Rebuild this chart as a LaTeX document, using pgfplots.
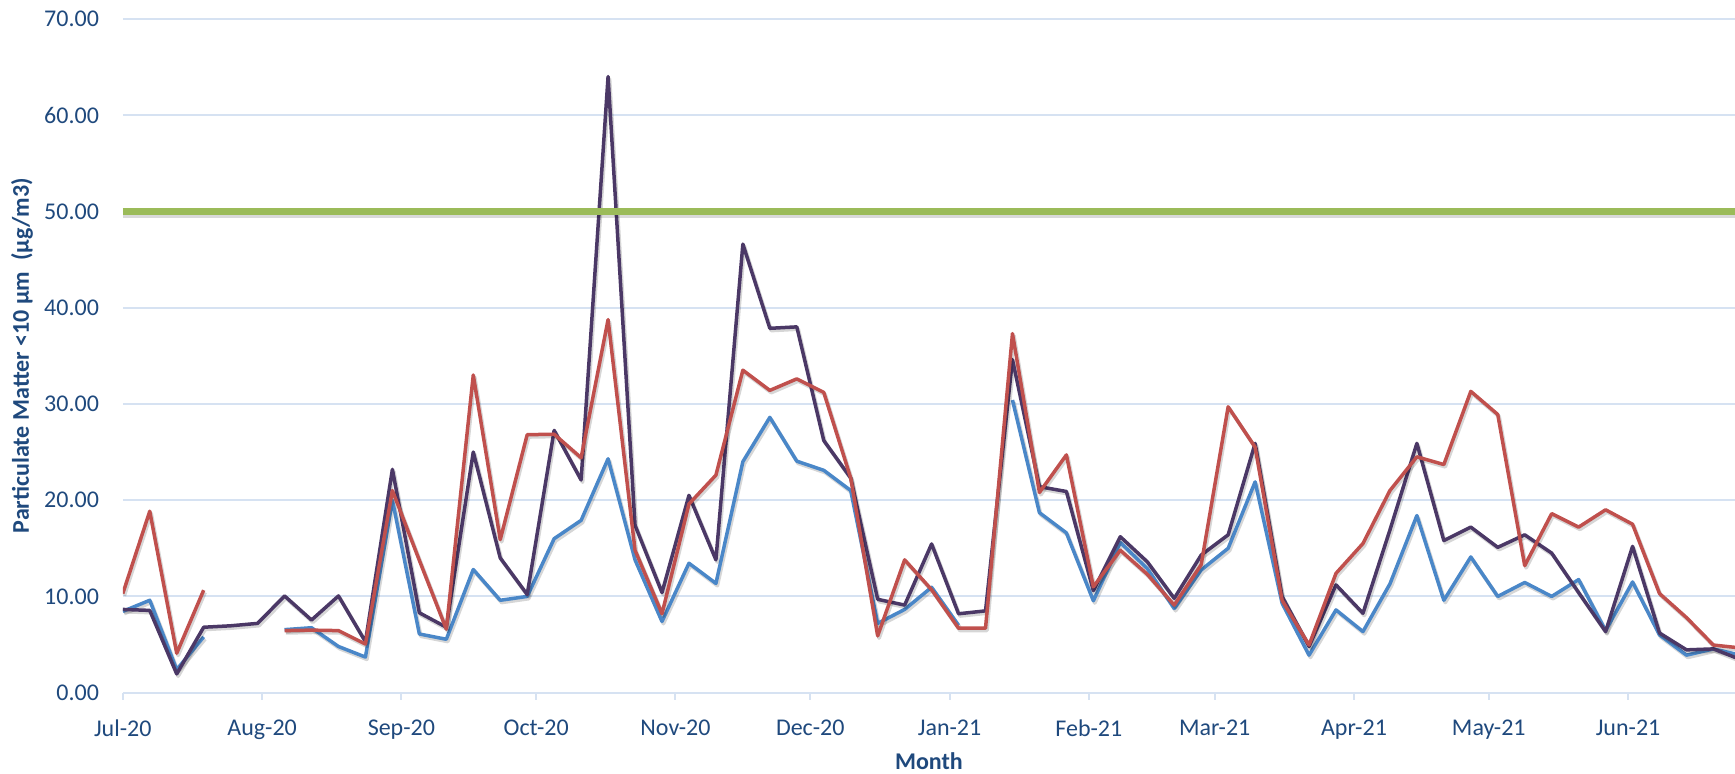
\documentclass[border=0pt]{standalone}
\usepackage{fontspec}
\setmainfont{Carlito}
\usepackage{pgfplots}
\pgfplotsset{compat=1.18}
\usepackage{pgfplotstable}
\definecolor{txt}{HTML}{1F497D}
\definecolor{gridc}{HTML}{D6E2F2}
\definecolor{cpurple}{HTML}{4B3866}
\definecolor{cred}{HTML}{C0504D}
\definecolor{cblue}{HTML}{4A87C8}
\definecolor{cgreen}{HTML}{9BBB59}

\pgfplotstableread{
day P R B
0 8.65 10.3 8.45
6 8.55 18.85 9.6
12 1.95 4.1 2.4
18 6.8 10.65 5.8
24 6.95 nan nan
30 7.2 nan nan
36 10.05 6.45 6.55
42 7.55 6.5 6.75
48 10.05 6.45 4.8
54 5.3 5.05 3.7
60 23.2 21.0 20.0
66 8.3 13.75 6.1
72 6.8 6.6 5.55
78 25.0 33.0 12.8
84 14.0 15.9 9.6
90 10.2 26.8 10.0
96 27.25 26.85 16.0
102 22.1 24.4 17.9
108 64.0 38.75 24.3
114 17.4 14.8 13.8
120 10.4 8.2 7.4
126 20.5 19.6 13.45
132 13.8 22.6 11.35
138 46.6 33.5 24.0
144 37.85 31.4 28.6
150 38.0 32.6 24.05
156 26.2 31.2 23.1
162 22.3 22.3 21.0
168 9.7 5.9 7.2
174 9.1 13.8 8.65
180 15.45 10.7 10.95
186 8.2 6.7 7.0
192 8.5 6.7 nan
198 34.6 37.3 30.4
204 21.4 20.8 18.7
210 20.9 24.7 16.6
216 10.6 11.0 9.55
222 16.2 14.8 15.6
228 13.6 12.3 12.9
234 9.8 9.1 8.75
240 14.3 13.3 12.75
246 16.4 29.7 15.0
252 25.9 25.5 21.9
258 10.0 9.6 9.3
264 4.8 4.95 3.9
270 11.2 12.4 8.6
276 8.25 15.5 6.35
282 16.9 21.0 11.3
288 25.9 24.5 18.4
294 15.8 23.7 9.6
300 17.2 31.3 14.1
306 15.1 28.9 10.0
312 16.4 13.2 11.45
318 14.5 18.6 10.0
324 10.4 17.2 11.75
330 6.35 19.0 6.45
336 15.2 17.5 11.5
342 6.2 10.3 6.0
348 4.45 7.8 3.9
354 4.55 4.95 4.55
360 3.45 4.65 3.9
}\data

\tikzset{shad/.style={preaction={draw=black, draw opacity=0.16, line width=1.9pt, transform canvas={xshift=0.7pt, yshift=-1.1pt}}}}

\begin{document}
\begin{tikzpicture}
\begin{axis}[
  width=806.1pt, height=336.95pt, scale only axis,
  xmin=0, xmax=358.8, ymin=0, ymax=70,
  axis line style={draw=none},
  xtick={0,31,62,92,123,153,184,215,243,274,304,335},
  xticklabels={Jul-20,Aug-20,Sep-20,Oct-20,Nov-20,Dec-20,Jan-21,Feb-21,Mar-21,Apr-21,May-21,Jun-21},
  ytick={0,10,...,70},
  xtick pos=bottom, xtick align=outside, major tick length=3.5pt,
  x tick style={gridc, line width=1pt}, y tick style={draw=none},
  ymajorgrids, grid style={gridc, line width=1pt},
  tick label style={font=\fontsize{12}{14}\selectfont, text=txt},
  /pgf/number format/assume math mode=true,
  yticklabel style={/pgf/number format/fixed, /pgf/number format/fixed zerofill, /pgf/number format/precision=2, xshift=-8.4pt},
  xticklabel style={yshift=-6.5pt},
  every axis y label/.style={at={(axis description cs:-0.0625,0.5)}, rotate=90, anchor=center, font=\bfseries\fontsize{12}{14}\selectfont, text=txt},
  every axis x label/.style={at={(axis description cs:0.5,-0.1013)}, anchor=center, font=\bfseries\fontsize{12}{14}\selectfont, text=txt},
  ylabel={Particulate Matter <10 μm\ \ (μg/m3)},
  xlabel={Month},
  unbounded coords=jump,
]
\coordinate (O) at (rel axis cs:0,0);
\addplot[cblue, line width=1.75pt, line join=round, shad] table[x=day, y=B] {\data};
\addplot[cpurple, line width=1.75pt, line join=round, shad] table[x=day, y=P] {\data};
\addplot[cred, line width=1.75pt, line join=round, shad] table[x=day, y=R] {\data};
\addplot[cgreen, line width=3.3pt, preaction={draw=black, draw opacity=0.15, line width=3.3pt, transform canvas={yshift=-1.5pt}}] coordinates {(0,50) (358.8,50)};
\end{axis}
\pgfresetboundingbox
\path ([shift={(-61.4pt,-40.15pt)}]O) rectangle ([shift={(806.1pt,346.35pt)}]O);
\end{tikzpicture}
\end{document}
